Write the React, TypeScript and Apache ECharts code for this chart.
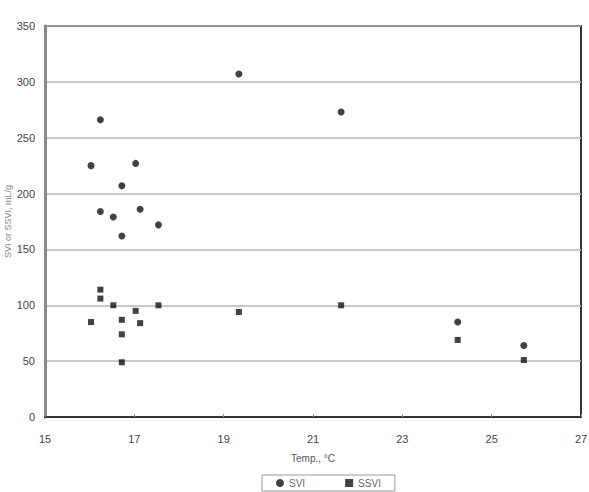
import React, { useEffect, useRef } from "react";
import * as echarts from "echarts";

const xTicks = [15, 17, 19, 21, 23, 25, 27];
const svi: [number, number][] = [
  [16.03, 225],
  [16.24, 266],
  [16.24, 184],
  [16.53, 179],
  [16.72, 207],
  [16.72, 162],
  [17.03, 227],
  [17.13, 186],
  [17.54, 172],
  [19.34, 307],
  [21.63, 273],
  [24.24, 85],
  [25.72, 64],
];
const ssvi: [number, number][] = [
  [16.03, 85],
  [16.24, 114],
  [16.24, 106],
  [16.53, 100],
  [16.72, 87],
  [16.72, 74],
  [16.72, 49],
  [17.03, 95],
  [17.13, 84],
  [17.54, 100],
  [19.34, 94],
  [21.63, 100],
  [24.24, 69],
  [25.72, 51],
];

export default function App() {
  const ref = useRef<HTMLDivElement>(null);
  useEffect(() => {
    if (!ref.current) return;
    const chart = echarts.init(ref.current, undefined, { renderer: "svg" });
    const font = "Liberation Sans";
    chart.setOption({
      animation: false,
      backgroundColor: "#fff",
      grid: {
        left: 45,
        top: 26,
        width: 536,
        height: 391,
        containLabel: false,
        outerBoundsMode: "none",
        show: true,
        borderColor: "#333",
        borderWidth: 2,
        backgroundColor: "transparent",
      },
      xAxis: {
        type: "value",
        min: 15,
        max: 27,
        interval: 2,
        name: "Temp., °C",
        nameLocation: "middle",
        nameGap: 36,
        nameMoveOverlap: false,
        nameTextStyle: { color: "#555", fontSize: 10, fontFamily: font },
        axisLine: { show: true, lineStyle: { color: "#333", width: 2 } },
        axisTick: { show: true, inside: true, length: 3, lineStyle: { color: "#999" } },
        axisLabel: {
          color: "#444",
          fontSize: 11,
          fontFamily: font,
          margin: 16,
          formatter: (v: number) => (xTicks.includes(v) ? String(v) : ""),
        },
        splitLine: { show: false },
      },
      yAxis: {
        type: "value",
        min: 0,
        max: 350,
        interval: 50,
        name: "SVI or SSVI, mL/g",
        nameLocation: "middle",
        nameGap: 33,
        nameRotate: 90,
        nameMoveOverlap: false,
        nameTextStyle: { color: "#888", fontSize: 9, fontFamily: font },
        axisLine: { show: true, lineStyle: { color: "#888", width: 3 } },
        axisTick: { show: false },
        axisLabel: { color: "#444", fontSize: 11, fontFamily: font, margin: 10 },
        splitLine: { show: true, lineStyle: { color: "#b5b5b5", width: 1.5 } },
      },
      legend: {
        bottom: 1,
        left: 262,
        width: 140,
        itemGap: 40,
        padding: [3, 14, 3, 14],
        borderColor: "#999",
        borderWidth: 1,
        itemWidth: 8,
        itemHeight: 8,
        textStyle: { color: "#666", fontSize: 10, fontFamily: font },
        data: [
          { name: "SVI", icon: "circle" },
          { name: "SSVI", icon: "rect" },
        ],
      },
      series: [
        {
          name: "SVI",
          type: "scatter",
          symbol: "circle",
          symbolSize: 7,
          itemStyle: { color: "#111" },
          data: svi,
        },
        {
          name: "SSVI",
          type: "scatter",
          symbol: "rect",
          symbolSize: 6,
          itemStyle: { color: "#111" },
          data: ssvi,
        },
      ],
    });
    return () => chart.dispose();
  }, []);
  return <div ref={ref} style={{ width: 589, height: 492, position: "absolute", left: 0, top: 0 }} />;
}
